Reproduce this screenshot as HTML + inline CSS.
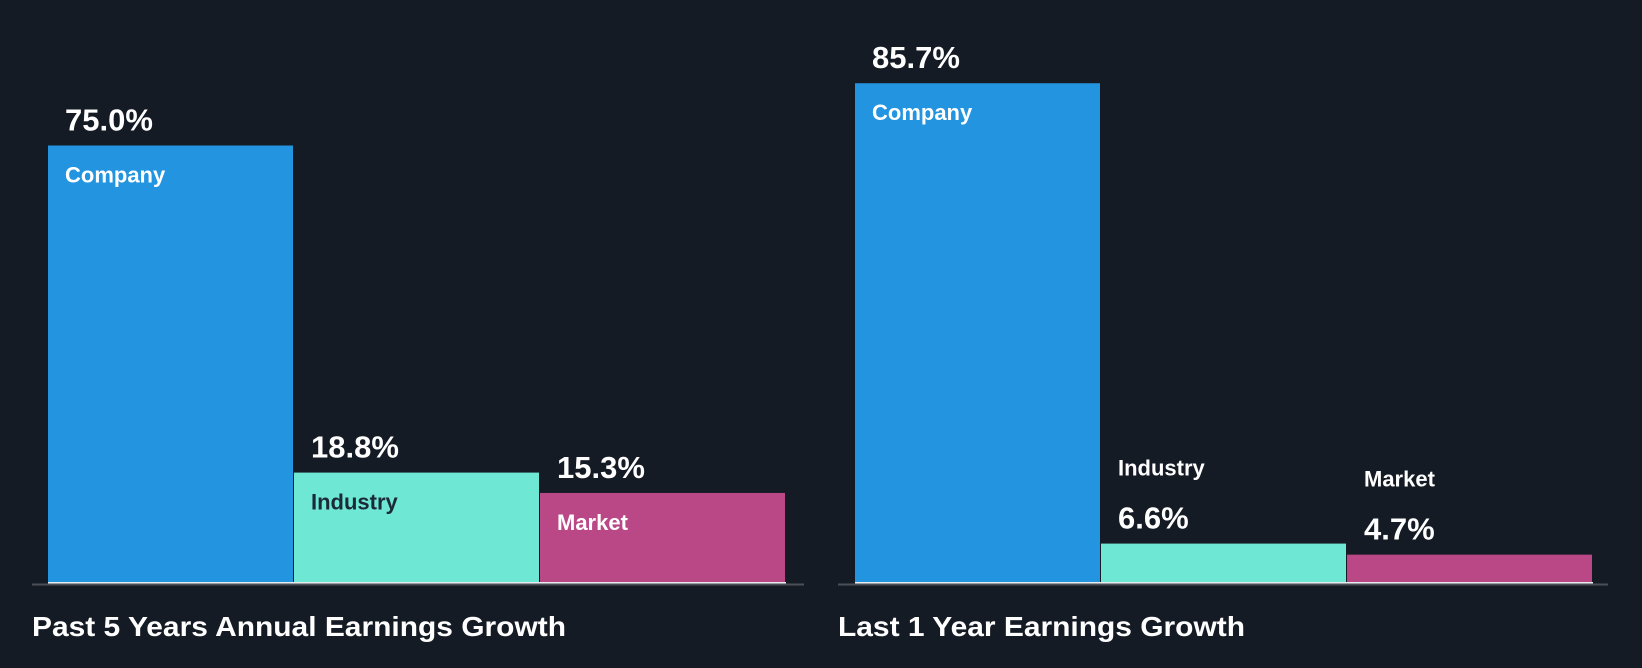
<!DOCTYPE html>
<html><head><meta charset="utf-8"><style>
html,body{margin:0;padding:0;background:#151b24;}
svg{display:block;font-family:"Liberation Sans",sans-serif;font-weight:bold;}
</style></head><body>
<svg id="c" width="1642" height="668" viewBox="0 0 1642 668">
<rect width="1642" height="668" fill="#151b24"/>
</svg>
<script>
const categories = ["Company","Industry","Market"];
const past5Values = [75.0, 18.8, 15.3];
const last1Values = [85.7, 6.6, 4.7];
const panelTitles = ["Past 5 Years Annual Earnings Growth","Last 1 Year Earnings Growth"];
const colors = ["#2394df","#6fe7d5","#bb4886"];
const nameColors = ["#ffffff","#1b2a36","#ffffff"];
const svg = document.getElementById('c');
const NS = "http://www.w3.org/2000/svg";
const baseY = 582;
const pxPer = 5.82;
function yScale(v){ return baseY - v*pxPer; }
function mk(tag, attrs){ const e=document.createElementNS(NS,tag); for(const k in attrs) e.setAttribute(k,attrs[k]); svg.appendChild(e); return e; }
const panels = [
  {values: past5Values, x0: 48, axisX1: 32, axisX2: 804, titleX: 32, titleLen: 534, key: "past-5-years"},
  {values: last1Values, x0: 855, axisX1: 838, axisX2: 1608, titleX: 838, titleLen: 407, key: "last-1-year"}
];
const barW = 246;
panels.forEach((p, pi) => {
  p.values.forEach((v, i) => {
    const x = p.x0 + i*barW;
    const top = yScale(v);
    const r = mk('rect', {x: x, y: top, width: barW-1, height: baseY-top, fill: colors[i]});
    
    
    const tall = (baseY - top) > 80;
    const valT = mk('text', {x: x+17, y: top-15, fill: '#ffffff', 'font-size': 31});
    valT.textContent = v.toFixed(1) + '%';
    
    
    const nmT = mk('text', {x: x+17, y: tall ? top+37 : top-68, fill: tall ? nameColors[i] : '#ffffff', 'font-size': 22});
    nmT.textContent = categories[i];
    
    
  });
  const base = mk('rect', {x: p.x0, y: baseY, width: barW*3, height: 2, fill: '#e8ecef'});
  
  
  const ax = mk('rect', {x: p.axisX1, y: baseY+1.5, width: p.axisX2-p.axisX1, height: 2, fill: '#4a4f57'});
  
  
  const t = mk('text', {x: p.titleX, y: 636, fill: '#ffffff', 'font-size': 28, textLength: p.titleLen, lengthAdjust: 'spacingAndGlyphs'});
  t.textContent = panelTitles[pi];
  
  
});
</script>
</body></html>
